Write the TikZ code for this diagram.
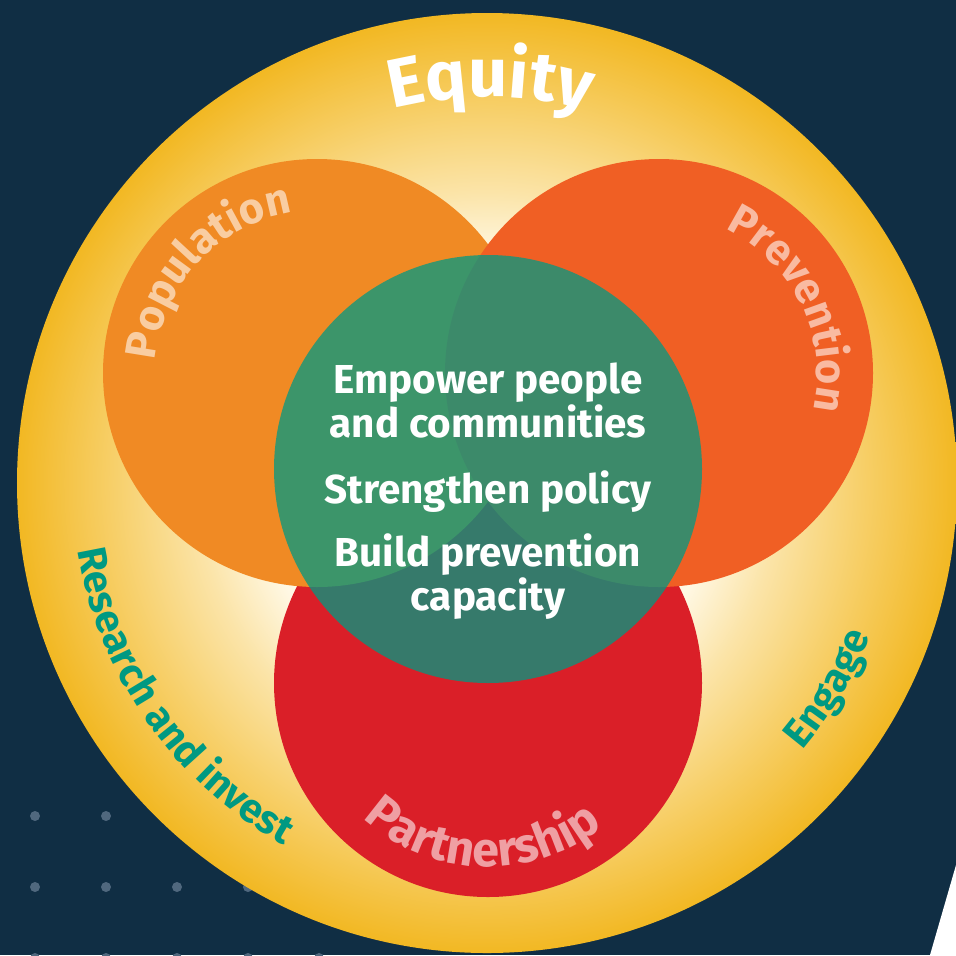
\documentclass[tikz,border=0pt]{standalone}
\usepackage{fontspec}
\setmainfont{Fira Sans}
\usepackage{tikz}
\usetikzlibrary{decorations.text, shapes, positioning, calc}
\definecolor{navy}{RGB}{16,46,68}
\definecolor{dotgrey}{RGB}{80,104,126}
\definecolor{gold}{RGB}{242,184,35}
\definecolor{goldmid}{RGB}{247,207,104}
\definecolor{goldpale}{RGB}{251,228,168}
\definecolor{cream}{RGB}{255,248,228}
\definecolor{popcol}{RGB}{240,138,36}
\definecolor{prevcol}{RGB}{240,95,36}
\definecolor{partcol}{RGB}{218,31,40}
\definecolor{empgreen}{RGB}{0,153,130}
\pgfdeclareradialshading{equityglow}{\pgfpoint{0bp}{0bp}}{color(0bp)=(cream); color(12bp)=(cream); color(15.5bp)=(goldpale); color(20bp)=(goldmid); color(25bp)=(gold); color(50bp)=(gold)}
\newcommand\ringfont{\bfseries\fontsize{12.3}{14}\selectfont}
\newcommand\tealfont{\bfseries\fontsize{11.5}{14}\selectfont}

\begin{document}
\begin{tikzpicture}[
  venn/.style={circle, minimum size=4.28cm, inner sep=0pt},
  goal/.style={text=white, align=center, anchor=base, font=\bfseries\fontsize{11.5}{12.5}\selectfont},
  arclabel/.style={decorate, decoration={text along path, text align=center, text color=#1}}
]
\fill[navy] (0,0) rectangle (9.56,-9.55);
\useasboundingbox (0,0) rectangle (9.56,-9.55);
\foreach \x in {0.35,1.06,1.77,2.48,3.19} {
  \foreach \y in {8.16,8.87,9.58} {
    \fill[dotgrey] (\x,-\y) circle (0.05);
  }
}
\node[circle, minimum size=9.4cm, inner sep=0pt, shading=equityglow] (equity) at (4.87,-4.83) {};
\node[venn, fill=partcol] (partnership) at (4.88,-6.83) {};
\node[venn, fill=popcol] (population) at (3.17,-3.73) {};
\node[venn, fill=prevcol] (prevention) at (6.59,-3.73) {};
\node[venn, fill=empgreen, fill opacity=0.75] (core) at (4.88,-4.69) {};

\path[arclabel=white, decoration={text={|\bfseries\fontsize{19.5}{24}\selectfont|Equity}}]
  (equity) ++(120:3.86) arc[start angle=120, end angle=59, radius=3.86];
\path[arclabel=white!57!popcol, decoration={text={|\ringfont|Population}}]
  (population) ++(197:1.62) arc[start angle=197, end angle=77, radius=1.62];
\path[arclabel=white!57!prevcol, decoration={text={|\ringfont|Prevention}}]
  (prevention) ++(86:1.58) arc[start angle=86, end angle=-34, radius=1.58];
\path[arclabel=white!57!partcol, decoration={text={|\bfseries\fontsize{13.8}{15}\selectfont|Partnership}}]
  (partnership) ++(208:1.84) arc[start angle=208, end angle=328, radius=1.84];
\path[arclabel=empgreen, decoration={text={|\tealfont|Research and invest}}]
  (equity) ++(180:4.15) arc[start angle=180, end angle=250, radius=4.15];
\path[arclabel=empgreen, decoration={text={|\tealfont|Engage}}]
  (equity) ++(-54:4.13) arc[start angle=-54, end angle=-8, radius=4.13];

\node[goal] (empower) at (4.88,-4.37) {Empower people\\and communities};
\node[goal] (policy) at (4.88,-5.03) {Strengthen policy};
\node[goal] (build) at (4.88,-6.10) {Build prevention\\capacity};

\fill[white] (9.56,-8.65) -- (9.30,-9.55) -- (9.56,-9.55) -- cycle;
\end{tikzpicture}
\end{document}
